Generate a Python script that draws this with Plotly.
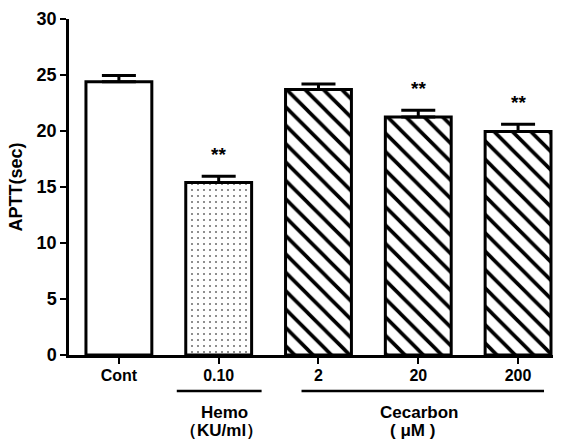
import plotly.graph_objects as go

# APTT measurements (mean and SEM, seconds)
categories = ["Cont", "0.10", "2", "20", "200"]
means = [24.4, 15.4, 23.7, 21.25, 19.95]
sems = [0.55, 0.55, 0.5, 0.6, 0.65]
significance = ["", "**", "", "**", "**"]
patterns = ["", ".", "\\", "\\", "\\"]

FONT = "Liberation Sans, Arial, sans-serif"
x_idx = list(range(len(categories)))

fig = go.Figure()
fig.add_trace(go.Bar(
    x=x_idx,
    y=means,
    width=0.66,
    marker=dict(
        color="white",
        line=dict(color="black", width=3),
        pattern=dict(
            shape=patterns,
            fgcolor="black",
            fgopacity=1,
            bgcolor="white",
            size=[8, 6, 13, 13, 13],
            solidity=[0.2, 0.06, 0.28, 0.28, 0.28],
        ),
    ),
    error_y=dict(
        type="data",
        symmetric=False,
        array=sems,
        arrayminus=[0] * len(sems),
        color="black",
        thickness=3,
        width=17,
    ),
    showlegend=False,
))

# significance marks above the error bars
for i, (m, s, sig) in enumerate(zip(means, sems, significance)):
    if sig:
        fig.add_annotation(
            x=i, y=m + s, text=sig, showarrow=False,
            yanchor="bottom", yshift=9,
            font=dict(family=FONT, size=19, color="black", weight="bold"),
        )

# group brackets below the axis
groups = [
    (0.58, 1.43, 1.06, 1.03, "Hemo", "（KU/ml）"),
    (1.83, 4.26, 3.01, 2.94, "Cecarbon", "( μM )"),
]
for x0, x1, xt, xu, name, unit in groups:
    fig.add_shape(
        type="line", xref="x", yref="paper", x0=x0, x1=x1, y0=-0.107, y1=-0.107,
        line=dict(color="black", width=2.5),
    )
    fig.add_annotation(
        x=xt, y=-0.136, xref="x", yref="paper", text=name, showarrow=False,
        yanchor="top",
        font=dict(family=FONT, size=17, color="black", weight="bold"),
    )
    fig.add_annotation(
        x=xu, y=-0.19, xref="x", yref="paper", text=unit, showarrow=False,
        yanchor="top",
        font=dict(family=FONT, size=17, color="black", weight="bold"),
    )

fig.update_layout(
    width=562, height=439,
    margin=dict(l=69, r=9, t=19, b=84),
    paper_bgcolor="white", plot_bgcolor="white",
    bargap=0.34,
)
fig.update_xaxes(
    range=[-0.5, 4.35],
    tickmode="array", tickvals=x_idx, ticktext=categories,
    showline=True, linecolor="black", linewidth=2.5,
    ticks="outside", ticklen=6, tickwidth=2, tickcolor="black",
    ticklabelstandoff=-2,
    tickfont=dict(family=FONT, size=16, color="black", weight="bold"),
    showgrid=False, zeroline=False,
)
fig.update_yaxes(
    range=[0, 30],
    tickvals=[0, 5, 10, 15, 20, 25, 30],
    showline=True, linecolor="black", linewidth=2.5,
    ticks="outside", ticklen=6, tickwidth=2, tickcolor="black",
    tickfont=dict(family=FONT, size=18, color="black", weight="bold"),
    title=dict(text="APTT(sec)", standoff=10,
               font=dict(family=FONT, size=18, color="black", weight="bold")),
    showgrid=False, zeroline=False,
)

fig.write_html("out.html")
